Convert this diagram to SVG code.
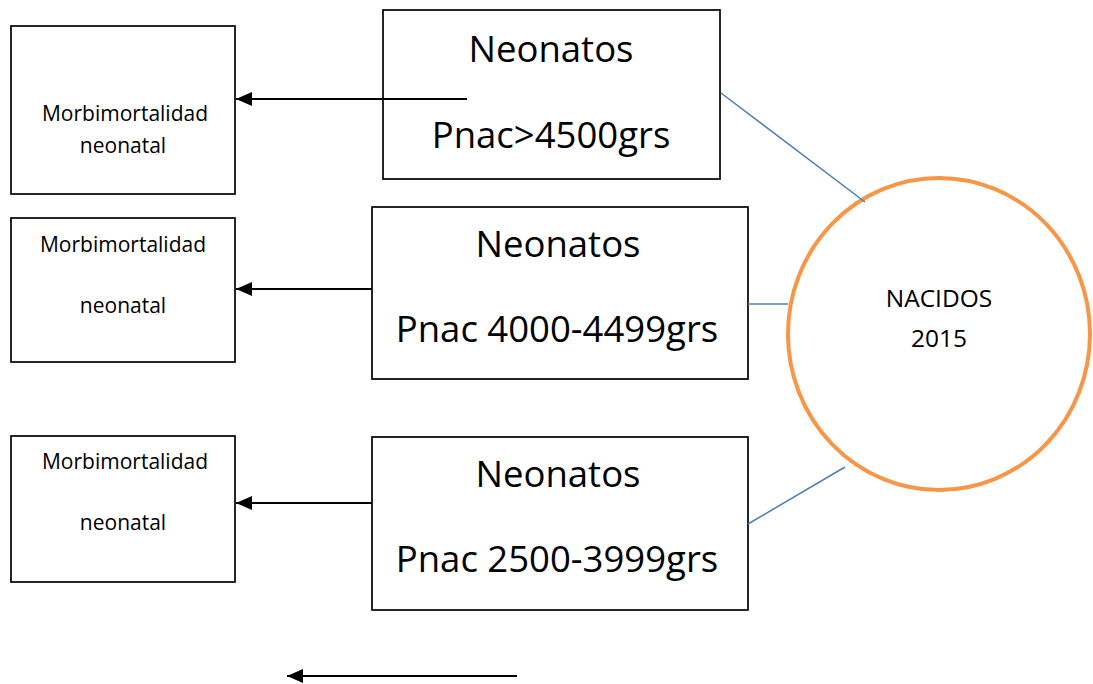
<svg xmlns="http://www.w3.org/2000/svg" width="1093" height="684" viewBox="0 0 1093 684">
  <style>
    .box { fill: #ffffff; stroke: #000000; stroke-width: 1.7; }
    .small { font-family: "Open Sans", "Noto Sans", sans-serif; font-size: 21px; fill: #000; text-anchor: middle; }
    .big { font-family: "Open Sans", "Noto Sans", sans-serif; font-size: 36.5px; fill: #000; text-anchor: middle; }
    .hub { font-family: "Open Sans", "Noto Sans", sans-serif; font-size: 24.5px; fill: #000; text-anchor: middle; }
    .arrow { stroke: #000000; stroke-width: 2.2; fill: none; marker-end: url(#head); }
    .link { stroke: #4A7EBB; stroke-width: 1.5; fill: none; }
  </style>
  <defs>
    <marker id="head" markerUnits="userSpaceOnUse" markerWidth="16" markerHeight="14" refX="16" refY="7" orient="auto">
      <path d="M0,0 L16,7 L0,14 z" fill="#000000"/>
    </marker>
  </defs>
  <rect width="1093" height="684" fill="#ffffff"/>

  <!-- outcome boxes -->
  <g id="outcome-1">
    <rect class="box" x="11" y="26" width="224" height="168"/>
    <text class="small" x="125" y="121">Morbimortalidad</text>
    <text class="small" x="123" y="153">neonatal</text>
  </g>
  <g id="outcome-2">
    <rect class="box" x="11" y="218" width="224" height="144"/>
    <text class="small" x="123" y="252">Morbimortalidad</text>
    <text class="small" x="123" y="313">neonatal</text>
  </g>
  <g id="outcome-3">
    <rect class="box" x="11" y="436" width="224" height="146"/>
    <text class="small" x="125" y="469">Morbimortalidad</text>
    <text class="small" x="123" y="530">neonatal</text>
  </g>

  <!-- weight group boxes -->
  <g id="group-over-4500">
    <rect class="box" x="383" y="10" width="337" height="169"/>
    <text class="big" x="551" y="62">Neonatos</text>
    <text class="big" x="551" y="148">Pnac&gt;4500grs</text>
  </g>
  <g id="group-4000-4499">
    <rect class="box" x="372" y="207" width="376" height="172"/>
    <text class="big" x="558" y="257">Neonatos</text>
    <text class="big" x="557" y="342">Pnac 4000-4499grs</text>
  </g>
  <g id="group-2500-3999">
    <rect class="box" x="372" y="437" width="376" height="173"/>
    <text class="big" x="558" y="487">Neonatos</text>
    <text class="big" x="557" y="572">Pnac 2500-3999grs</text>
  </g>

  <!-- births hub -->
  <g id="nacidos-2015">
    <ellipse cx="939" cy="334" rx="151" ry="156" fill="#ffffff" stroke="#F79646" stroke-width="4"/>
    <text class="hub" x="939" y="307">NACIDOS</text>
    <text class="hub" x="939" y="347">2015</text>
  </g>

  <!-- connectors -->
  <g id="connectors">
    <line class="link" x1="721" y1="93" x2="865" y2="202"/>
    <line class="link" x1="748" y1="304" x2="788" y2="304"/>
    <line class="link" x1="748" y1="524" x2="845" y2="467"/>
    <line class="arrow" x1="467" y1="99" x2="236" y2="99"/>
    <line class="arrow" x1="372" y1="289" x2="236" y2="289"/>
    <line class="arrow" x1="372" y1="503" x2="236" y2="503"/>
    <line class="arrow" x1="517" y1="676" x2="287" y2="676"/>
  </g>
</svg>
